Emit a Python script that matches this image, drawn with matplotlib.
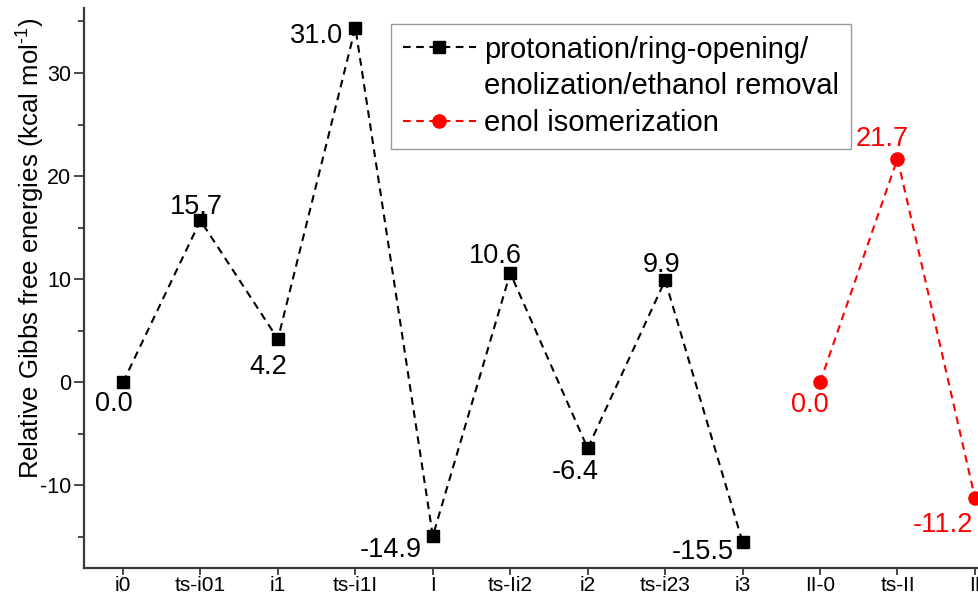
import matplotlib
matplotlib.use("Agg")
import matplotlib.pyplot as plt
from matplotlib.lines import Line2D

plt.rcParams['font.family'] = ['Liberation Sans', 'DejaVu Sans']
plt.rcParams['mathtext.fontset'] = 'custom'
plt.rcParams['mathtext.rm'] = 'Liberation Sans'
plt.rcParams['mathtext.it'] = 'Liberation Sans:italic'
plt.rcParams['axes.unicode_minus'] = False
plt.rcParams['lines.scale_dashes'] = False

# ---- data ----
categories = ["i0", "ts-i01", "i1", "ts-i1I", "I", "ts-Ii2", "i2", "ts-i23", "i3",
              "II-0", "ts-II", "II"]
black_x = ["i0", "ts-i01", "i1", "ts-i1I", "I", "ts-Ii2", "i2", "ts-i23", "i3"]
black_values = [0.0, 15.7, 4.2, 34.4, -14.9, 10.6, -6.4, 9.9, -15.5]
black_labels = ["0.0", "15.7", "4.2", "31.0", "-14.9", "10.6", "-6.4", "9.9", "-15.5"]
red_x = ["II-0", "ts-II", "II"]
red_values = [0.0, 21.7, -11.2]
red_labels = ["0.0", "21.7", "-11.2"]
series_names = ["protonation/ring-opening/", "enolization/ethanol removal",
                "enol isomerization"]
ylabel = "Relative Gibbs free energies (kcal mol$^{\\text{-1}}$)"

# label offsets in pixels (dx of text centre, dy of baseline), style only
black_off = [(-9, -29), (-4, 6), (-10, -35), (-39, -15), (-42, -21), (-15, 10),
             (-13, -31), (-4, 8), (-40, -17)]
red_off = [(-10, -30), (-15, 13), (-32, -34)]

W, H = 979, 601
fig = plt.figure(figsize=(W / 100, H / 100), dpi=100)
ax = fig.add_axes([84 / W, (H - 568) / H, (W - 84) / W, (568 - 8) / H])

pos = {c: i for i, c in enumerate(categories)}
bx = [pos[c] for c in black_x]
rx = [pos[c] for c in red_x]

DASH = (5.5, 4.0)
ax.plot(bx, black_values, color='black', lw=1.5, dashes=DASH, marker='s',
        markersize=9.2, clip_on=False, zorder=3)
ax.plot(rx, red_values, color='#ff0000', lw=1.5, dashes=DASH, marker='o',
        markersize=9.5, clip_on=False, zorder=3)

for x, v, lab, (dx, dy) in zip(bx, black_values, black_labels, black_off):
    ax.annotate(lab, (x, v), xytext=(dx, dy), textcoords='offset pixels',
                ha='center', va='baseline', fontsize=19.5, color='black',
                annotation_clip=False)
for x, v, lab, (dx, dy) in zip(rx, red_values, red_labels, red_off):
    ax.annotate(lab, (x, v), xytext=(dx, dy), textcoords='offset pixels',
                ha='center', va='baseline', fontsize=19.5, color='#ff0000',
                annotation_clip=False)

ax.set_xlim((84 - 123) / 77.45, (W - 123) / 77.45)
ax.set_ylim(-18.0, 36.3)
ax.set_xticks(range(len(categories)))
ax.set_xticklabels(categories)
ax.set_yticks([-10, 0, 10, 20, 30])
ax.set_yticks([-15, -5, 5, 15, 25, 35], minor=True)

for s in ['top', 'right']:
    ax.spines[s].set_visible(False)
for s in ['left', 'bottom']:
    ax.spines[s].set_color('#3a3a3a')
    ax.spines[s].set_linewidth(1.6)

ax.tick_params(axis='y', which='major', direction='out', length=7.5, width=1.3,
               color='#3a3a3a', labelsize=15.5, pad=1.5)
ax.tick_params(axis='y', which='minor', direction='out', length=4, width=1.3,
               color='#3a3a3a')
ax.tick_params(axis='x', which='major', direction='out', length=5, width=1.3,
               color='#3a3a3a', labelsize=15, pad=1)

ax.set_ylabel(ylabel, fontsize=18.5, va='center')
ax.yaxis.set_label_coords((31 - 84) / (W - 84), (568 - 248) / 560)

h1 = Line2D([], [], color='black', lw=1.5, dashes=DASH, marker='s', markersize=9.2)
h2 = Line2D([], [], color='none', lw=0)
h3 = Line2D([], [], color='#ff0000', lw=1.5, dashes=DASH, marker='o', markersize=9.5)
leg = ax.legend([h1, h2, h3], series_names, loc='upper left',
                bbox_to_anchor=((391 - 84) / (W - 84), (568 - 24) / 560),
                borderaxespad=0, fontsize=21, handlelength=2.5, handletextpad=0.3,
                labelspacing=0.3, borderpad=0.4, fancybox=False, framealpha=1,
                edgecolor='#999999', numpoints=1)
leg.get_frame().set_linewidth(1.0)

fig.savefig("out.png", dpi=100)
